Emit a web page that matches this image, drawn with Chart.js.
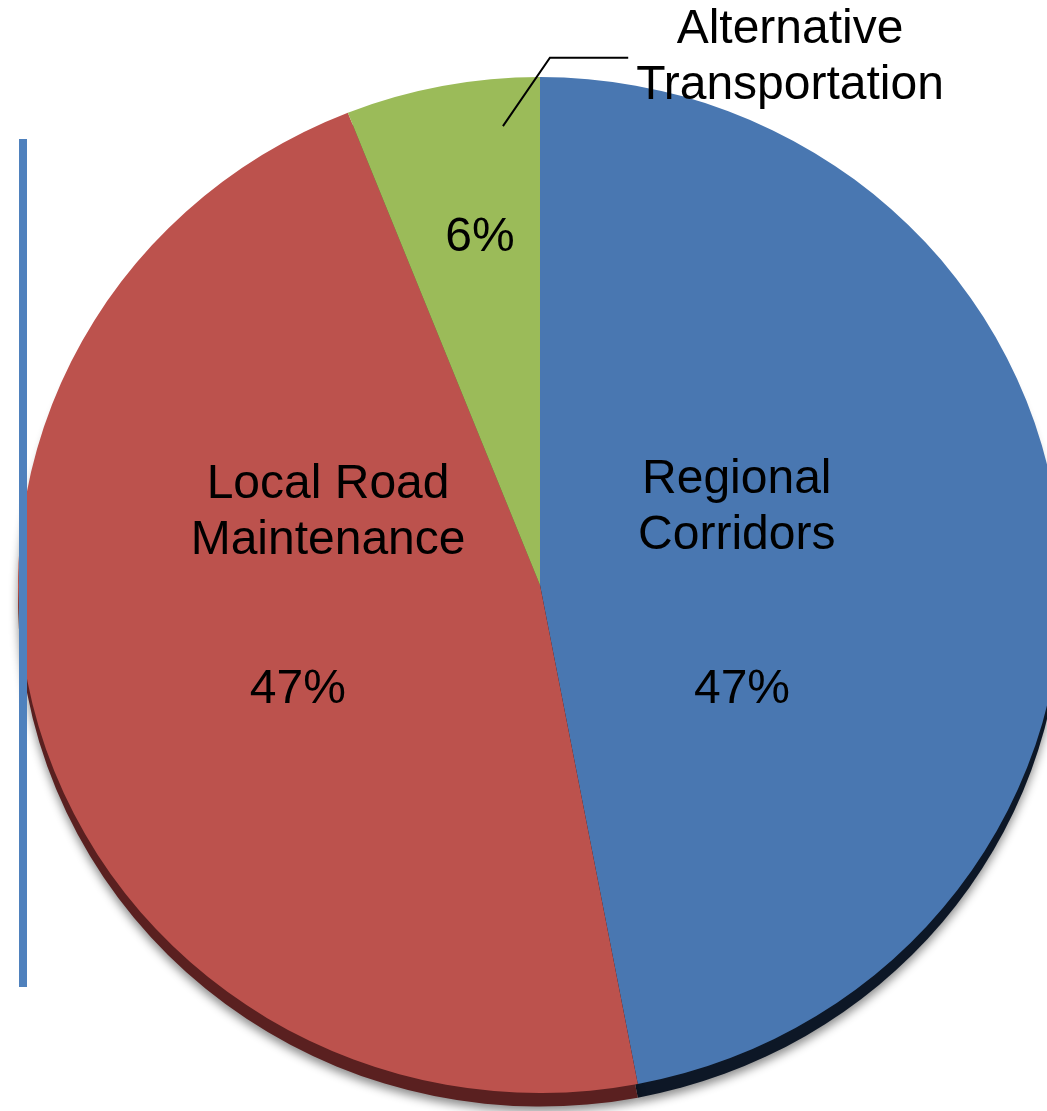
<!DOCTYPE html>
<html>
<head>
<meta charset="utf-8">
<script src="https://cdn.jsdelivr.net/npm/chart.js@4"></script>
<style>
    html, body { margin: 0; padding: 0; background: #fff; overflow: hidden; width: 1047px; height: 1111px; }
    #bar { position: absolute; left: 19px; top: 139px; width: 8px; height: 848px; background: #4f81bd; }
    #wrap { position: absolute; left: 0; top: 0; width: 1100px; height: 1111px; }
</style>
</head>
<body>
<div id="wrap"><canvas id="pie" width="1100" height="1111"></canvas></div>
<div id="bar"></div>
<script>
// Budget split (percent)
const categories = ['Regional Corridors', 'Local Road Maintenance', 'Alternative Transportation'];
const shares = [47, 47, 6];
const sliceColors = ['#4977b1', '#bc524d', '#9bbb59'];
const rimColors = ['#0d1726', '#5a2020', '#4d5e2a'];

// label placement, as fractions of the pie radius from its centre
const nameSpots = [[0.377, -0.148], [-0.406, -0.138], [0.479, -1.01]];
const pctSpots = [[0.387, 0.201], [-0.464, 0.201], [-0.115, -0.665]];
const leader = [[-0.071, -0.879], [0.019, -1.01], [0.169, -1.01]];

const nameLines = [['Regional', 'Corridors'], ['Local Road', 'Maintenance'], ['Alternative', 'Transportation']];

const tilt = 508 / 522; // slight vertical squash of the pie face

// squash the pie into a flat ellipse while the arcs are drawn
const tiltPlugin = {
    id: 'tilt',
    beforeDatasetsDraw(chart) {
        const arc = chart.getDatasetMeta(0).data[0];
        const ctx = chart.ctx;
        ctx.save();
        ctx.translate(0, arc.y);
        ctx.scale(1, tilt);
        ctx.translate(0, -arc.y);
    },
    afterDatasetsDraw(chart) {
        chart.ctx.restore();
    }
};

// dark side wall + drop shadow under the pie
const rimPlugin = {
    id: 'rim',
    beforeDatasetsDraw(chart) {
        const ctx = chart.ctx;
        const meta = chart.getDatasetMeta(0);
        ctx.save();
        ctx.shadowColor = 'rgba(0,0,0,0.45)';
        ctx.shadowBlur = 10;
        ctx.shadowOffsetY = 5;
        meta.data.forEach((el, i) => {
            ctx.fillStyle = rimColors[i];
            ctx.beginPath();
            ctx.moveTo(el.x, el.y + 14);
            ctx.arc(el.x, el.y + 14, el.outerRadius, el.startAngle, el.endAngle);
            ctx.closePath();
            ctx.fill();
        });
        ctx.restore();
    }
};

const labelPlugin = {
    id: 'sliceLabels',
    afterDatasetsDraw(chart) {
        const meta = chart.getDatasetMeta(0);
        const ctx = chart.ctx;
        const arc = meta.data[0];
        const cx = arc.x, cy = arc.y, r = arc.outerRadius;
        ctx.save();
        ctx.fillStyle = '#000';
        ctx.font = '48px "Liberation Sans", Arial, sans-serif';
        ctx.textAlign = 'center';
        ctx.textBaseline = 'middle';
        const total = shares.reduce((a, b) => a + b, 0);
        meta.data.forEach((el, i) => {
            const lines = nameLines[i];
            const nx = cx + nameSpots[i][0] * r;
            const ny = cy + nameSpots[i][1] * r;
            lines.forEach((t, k) => {
                ctx.fillText(t, nx, ny + (k - (lines.length - 1) / 2) * 56);
            });
            const pct = Math.round(shares[i] / total * 100) + '%';
            ctx.fillText(pct, cx + pctSpots[i][0] * r, cy + pctSpots[i][1] * r);
        });
        // leader line for the small slice
        ctx.strokeStyle = '#000';
        ctx.lineWidth = 2;
        ctx.beginPath();
        leader.forEach((p, k) => {
            const x = cx + p[0] * r, y = cy + p[1] * r;
            if (k === 0) ctx.moveTo(x, y); else ctx.lineTo(x, y);
        });
        ctx.stroke();
        ctx.restore();
    }
};

new Chart(document.getElementById('pie'), {
    type: 'pie',
    data: {
        labels: categories,
        datasets: [{
            data: shares,
            backgroundColor: sliceColors,
            borderWidth: 0,
            hoverOffset: 0
        }]
    },
    options: {
        responsive: false,
        animation: false,
        devicePixelRatio: 1,
        rotation: 0,
        layout: { padding: { left: 18, right: 38, top: 63, bottom: 4 } },
        plugins: {
            legend: { display: false },
            tooltip: { enabled: false }
        }
    },
    plugins: [tiltPlugin, rimPlugin, labelPlugin]
});
</script>
</body>
</html>
